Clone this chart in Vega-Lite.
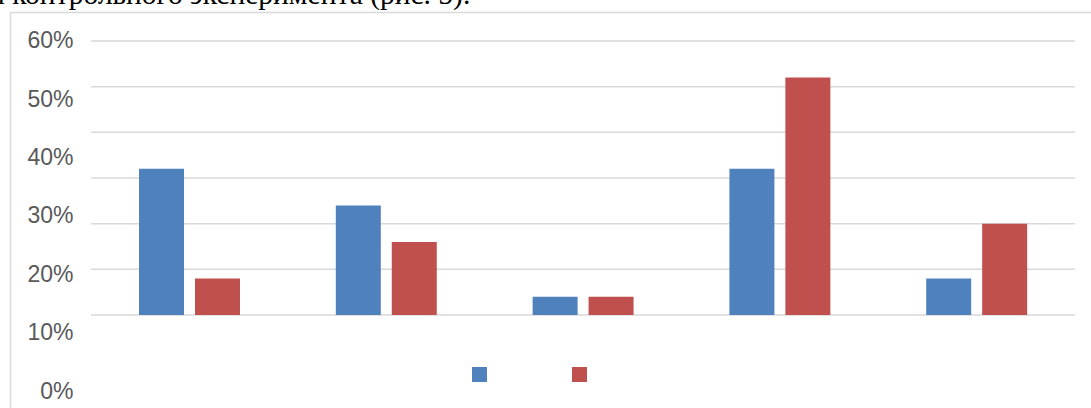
{
  "$schema": "https://vega.github.io/schema/vega-lite/v6.json",
  "autosize": "none",
  "width": 1081,
  "height": 396,
  "padding": {"left": 10, "top": 12, "right": 0, "bottom": 0},
  "background": "white",
  "title": {
    "text": "и контрольного эксперимента (рис. 5).",
    "anchor": "start",
    "frame": "group",
    "font": "Liberation Serif",
    "fontSize": 29.5,
    "fontWeight": "normal",
    "color": "#000000",
    "baseline": "alphabetic",
    "offset": 0,
    "dx": -21,
    "dy": 21
  },
  "layer": [
    {
      "data": {"values": [{"pct": 0}, {"pct": 10}, {"pct": 20}, {"pct": 30}, {"pct": 40}, {"pct": 50}, {"pct": 60}]},
      "mark": {"type": "rule", "color": "#d9d9d9", "strokeWidth": 1.5},
      "encoding": {
        "y": {"field": "pct", "type": "quantitative", "scale": {"domain": [-20.365, 66.35], "nice": false, "zero": false}, "axis": null},
        "x": {
          "datum": 0,
          "type": "quantitative",
          "scale": {"domain": [-0.0823, 1.0163], "nice": false, "zero": false},
          "axis": {"orient": "top", "labels": false, "ticks": false, "grid": false, "domain": true, "domainColor": "#d9d9d9", "domainWidth": 1.5, "title": null}
        },
        "x2": {"datum": 1}
      }
    },
    {
      "data": {
        "values": [
          {"group": "1", "series": "Экспериментальная", "value": 32},
          {"group": "1", "series": "Контрольная", "value": 8},
          {"group": "2", "series": "Экспериментальная", "value": 24},
          {"group": "2", "series": "Контрольная", "value": 16},
          {"group": "3", "series": "Экспериментальная", "value": 4},
          {"group": "3", "series": "Контрольная", "value": 4},
          {"group": "4", "series": "Экспериментальная", "value": 32},
          {"group": "4", "series": "Контрольная", "value": 52},
          {"group": "5", "series": "Экспериментальная", "value": 8},
          {"group": "5", "series": "Контрольная", "value": 20}
        ]
      },
      "mark": {"type": "bar"},
      "encoding": {
        "x": {"field": "group", "type": "nominal", "scale": {"paddingInner": 0.487, "paddingOuter": 0.49, "align": 0.669}, "axis": null},
        "xOffset": {"field": "series", "type": "nominal", "sort": ["Экспериментальная", "Контрольная"], "scale": {"paddingInner": 0.196, "paddingOuter": 0}},
        "y": {"field": "value", "type": "quantitative", "scale": {"domain": [-20.365, 66.35], "nice": false, "zero": false}, "axis": null},
        "y2": {"datum": 0},
        "color": {
          "field": "series",
          "type": "nominal",
          "scale": {"domain": ["Экспериментальная", "Контрольная"], "range": ["#4f81bd", "#c0504d"]},
          "legend": {
            "orient": "none",
            "legendX": 462,
            "legendY": 355,
            "direction": "horizontal",
            "title": null,
            "symbolType": "square",
            "symbolSize": 225,
            "symbolStrokeWidth": 0,
            "symbolOpacity": 1,
            "labelExpr": "''",
            "columnPadding": 81
          }
        }
      }
    },
    {
      "data": {"values": [{"pct": 0}, {"pct": 60}]},
      "mark": {"type": "point", "opacity": 0},
      "encoding": {
        "y": {
          "field": "pct",
          "type": "quantitative",
          "scale": {"domain": [-2.914, 64.97], "nice": false, "zero": false},
          "axis": {
            "orient": "left",
            "values": [0, 10, 20, 30, 40, 50, 60],
            "labelExpr": "datum.value + '%'",
            "ticks": false,
            "tickSize": 0,
            "grid": false,
            "domain": true,
            "domainColor": "#d9d9d9",
            "domainWidth": 1.5,
            "labelAlign": "right",
            "labelBaseline": "middle",
            "labelPadding": -63,
            "labelFont": "Liberation Sans",
            "labelFontSize": 23,
            "labelColor": "#595959",
            "labelOverlap": false,
            "labelFlush": false,
            "title": null
          }
        }
      }
    }
  ],
  "resolve": {"scale": {"x": "independent", "y": "independent"}, "axis": {"x": "independent", "y": "independent"}},
  "config": {"view": {"stroke": null}}
}
